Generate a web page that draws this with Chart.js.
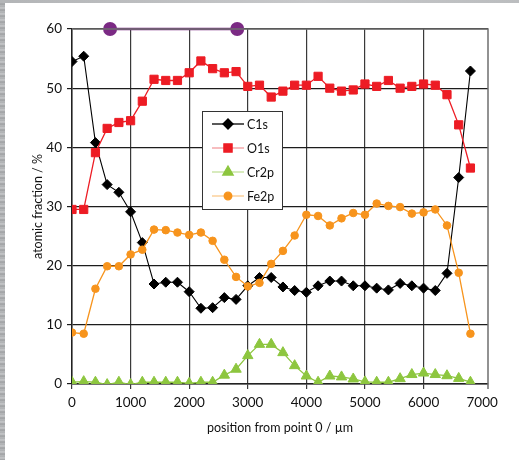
<!DOCTYPE html>
<html>
<head>
<meta charset="utf-8">
<title>atomic fraction profile</title>
<script src="https://cdn.jsdelivr.net/npm/chart.js@4.4.1/dist/chart.umd.min.js"></script>
<style>
html, body { margin: 0; padding: 0; background: #fff; }
#wrap { position: relative; width: 519px; height: 460px; overflow: hidden; background: #fff; }
.edge-left { position: absolute; left: 0; top: 0; width: 5px; height: 460px;
  background: repeating-linear-gradient(180deg, #a9abad 0px, #c8c9cb 2px, #9c9ea0 4px, #babcbe 6px); }
.edge-top { position: absolute; left: 0; top: 0; width: 519px; height: 3px;
  background: linear-gradient(90deg, #b3b5b7, #c7c8ca 60%, #bbbdbf); }
canvas { position: absolute; left: 0; top: 0; }
</style>
</head>
<body>
<div id="wrap">
  <div class="edge-left"></div>
  <div class="edge-top"></div>
  <canvas id="profileChart" width="519" height="460"></canvas>
</div>
<script>
// measurement positions (µm)
const positions = [0, 200, 400, 600, 800, 1000, 1200, 1400, 1600, 1800, 2000, 2200, 2400, 2600, 2800,
  3000, 3200, 3400, 3600, 3800, 4000, 4200, 4400, 4600, 4800, 5000, 5200, 5400, 5600, 5800,
  6000, 6200, 6400, 6600, 6800];

const c1s = [54.5, 55.4, 40.8, 33.7, 32.4, 29.1, 23.9, 16.9, 17.2, 17.2, 15.6, 12.8, 12.9, 14.6, 14.3,
  16.6, 18.0, 18.0, 16.4, 15.8, 15.5, 16.6, 17.4, 17.4, 16.6, 16.6, 16.2, 15.9, 17.0, 16.6,
  16.2, 15.8, 18.7, 34.9, 52.9];
const o1s = [29.5, 29.5, 39.1, 43.2, 44.2, 44.5, 47.8, 51.5, 51.3, 51.3, 52.6, 54.6, 53.3, 52.6, 52.8,
  50.3, 50.5, 48.5, 49.5, 50.5, 50.5, 52.0, 50.0, 49.5, 49.7, 50.7, 50.3, 51.3, 50.0, 50.3,
  50.7, 50.5, 48.9, 43.8, 36.5];
const cr2p = [0.3, 0.4, 0.3, -0.1, 0.3, -0.1, 0.3, 0.3, 0.3, 0.3, 0.1, 0.3, 0.3, 1.5, 2.5,
  4.8, 6.7, 6.7, 5.3, 3.1, 1.35, 0.3, 1.35, 1.2, 0.85, 0.35, 0.3, 0.3, 0.9, 1.6,
  1.85, 1.6, 1.4, 0.95, 0.3];
const fe2p = [8.7, 8.5, 16.1, 19.9, 19.9, 21.9, 22.7, 26.1, 26.0, 25.6, 25.2, 25.6, 24.2, 21.0, 18.1,
  16.5, 17.1, 20.3, 22.5, 25.1, 28.6, 28.4, 26.8, 28.0, 28.9, 28.6, 30.5, 30.1, 29.9, 28.8,
  29.0, 29.5, 26.8, 18.8, 8.5];

// marked region drawn along the top of the plot
const regionStart = 650;
const regionEnd = 2820;
const regionLevel = 60;

const xTicks = [0, 1000, 2000, 3000, 4000, 5000, 6000, 7000];
const yTicks = [0, 10, 20, 30, 40, 50, 60];

const FONT = "Lato, 'Open Sans', sans-serif";

function toPoints(values) {
  return positions.map((x, i) => ({ x: x, y: values[i] }));
}

const seriesStyles = [
  { label: 'C1s', values: c1s, color: '#000000', legendLine: '#000000', pointStyle: 'rectRot', radius: 5, order: 3 },
  { label: 'O1s', values: o1s, color: '#ed1c24', legendLine: '#f39a9c', pointStyle: 'rect', radius: 5.8, order: 2 },
  { label: 'Cr2p', values: cr2p, color: '#8dc63f', legendLine: '#c3e19b', pointStyle: 'triangle', radius: 6, order: 1 },
  { label: 'Fe2p', values: fe2p, color: '#f7941d', legendLine: '#fbc98c', pointStyle: 'circle', radius: 3.8, order: 0 }
];

const datasets = seriesStyles.map(s => ({
  label: s.label,
  data: toPoints(s.values),
  borderColor: s.color,
  backgroundColor: s.color,
  borderWidth: s.color === '#000000' ? 1.1 : 1.3,
  pointStyle: s.pointStyle,
  pointRadius: s.radius,
  pointBorderWidth: 1,
  pointBorderColor: s.color,
  pointBackgroundColor: s.color,
  order: s.order,
  tension: 0
}));

datasets.push({
  label: 'region',
  data: [{ x: regionStart, y: regionLevel }, { x: regionEnd, y: regionLevel }],
  borderColor: '#7b2a84',
  backgroundColor: '#7b2a84',
  borderWidth: 2.5,
  pointStyle: 'circle',
  pointRadius: 7,
  pointBorderWidth: 0,
  clip: false,
  order: 5
});

// box legend inside the plot + grey frame on the top/right
const plotExtras = {
  id: 'plotExtras',
  afterDraw(chart) {
    const ctx = chart.ctx;
    const area = chart.chartArea;
    ctx.save();
    ctx.strokeStyle = '#6f6f6f';
    ctx.lineWidth = 1.5;
    ctx.beginPath();
    ctx.moveTo(area.left, area.top);
    ctx.lineTo(area.right, area.top);
    ctx.lineTo(area.right, area.bottom + 5);
    ctx.stroke();

    // legend box
    const bx = 202, by = 111, bw = 80, bh = 98;
    ctx.fillStyle = '#ffffff';
    ctx.fillRect(bx, by, bw, bh);
    ctx.strokeStyle = '#333333';
    ctx.lineWidth = 1;
    ctx.strokeRect(bx + 0.5, by + 0.5, bw, bh);

    ctx.font = '12.5px ' + FONT;
    ctx.textBaseline = 'middle';
    ctx.textAlign = 'left';
    seriesStyles.forEach((s, i) => {
      const y = by + 13 + i * 24;
      ctx.strokeStyle = s.legendLine;
      ctx.lineWidth = 1.3;
      ctx.beginPath();
      ctx.moveTo(bx + 10, y);
      ctx.lineTo(bx + 42, y);
      ctx.stroke();
      ctx.fillStyle = s.color;
      ctx.strokeStyle = s.color;
      Chart.helpers.drawPoint(ctx, {
        pointStyle: s.pointStyle, radius: s.radius, rotation: 0, borderWidth: 1
      }, bx + 26, y);
      ctx.fillStyle = '#111111';
      ctx.fillText(s.label, bx + 45, y + 0.5);
    });
    ctx.restore();
  }
};

new Chart(document.getElementById('profileChart'), {
  type: 'line',
  data: { datasets: datasets },
  options: {
    responsive: false,
    animation: false,
    devicePixelRatio: 1,
    layout: { padding: { left: 30, top: 29, right: 31, bottom: 25 } },
    plugins: {
      legend: { display: false },
      tooltip: { enabled: false }
    },
    scales: {
      x: {
        type: 'linear',
        min: 0,
        max: 7100,
        afterBuildTicks: (scale) => { scale.ticks = xTicks.map(v => ({ value: v })); },
        afterFit: (scale) => { scale.height = 51; },
        grid: {
          color: (c) => (c.tick && c.tick.value === 7000 ? 'rgba(0,0,0,0)' : '#3a3a3a'),
          lineWidth: 1.2,
          tickLength: 5,
          drawOnChartArea: true
        },
        border: { display: true, color: '#222222', width: 1.5 },
        ticks: {
          color: '#111111',
          font: { family: FONT, size: 13.5 },
          padding: 6,
          maxRotation: 0,
          callback: (v) => String(v)
        },
        title: {
          display: true,
          text: 'position from point 0 / µm',
          color: '#111111',
          font: { family: FONT, size: 12.5 },
          padding: { top: 0, bottom: 0 }
        }
      },
      y: {
        min: 0,
        max: 60,
        afterBuildTicks: (scale) => { scale.ticks = yTicks.map(v => ({ value: v })); },
        afterFit: (scale) => { scale.width = 42; },
        grid: {
          color: '#1c1c1c',
          lineWidth: 1.2,
          tickLength: 5
        },
        border: { display: true, color: '#222222', width: 1.5 },
        ticks: {
          color: '#111111',
          font: { family: FONT, size: 13.5 },
          padding: 5,
          callback: (v) => String(v)
        },
        title: {
          display: true,
          text: 'atomic fraction / %',
          color: '#111111',
          font: { family: FONT, size: 12.5 },
          padding: { top: 0, bottom: 0 }
        }
      }
    }
  },
  plugins: [plotExtras]
});
</script>
</body>
</html>
